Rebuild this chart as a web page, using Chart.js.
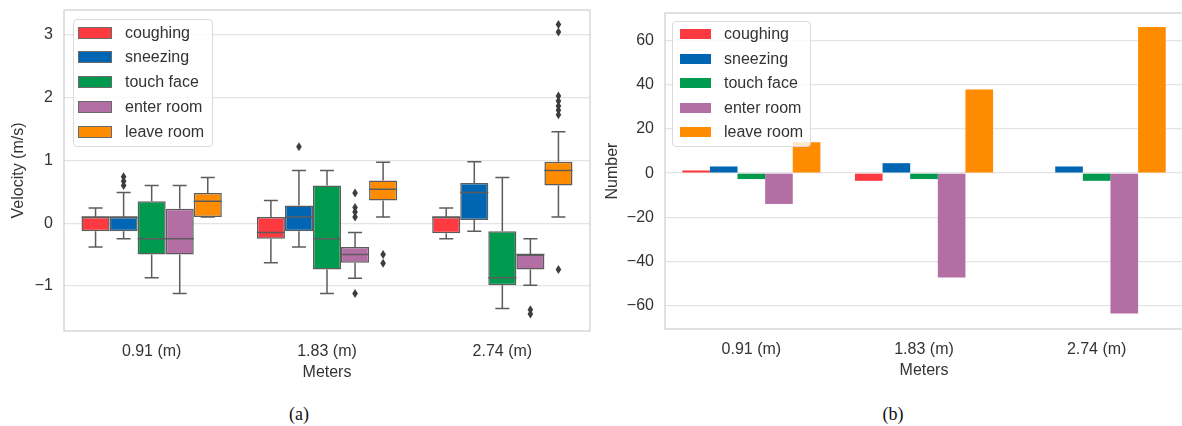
<!DOCTYPE html>
<html>
<head>
<meta charset="utf-8">
<script src="https://cdn.jsdelivr.net/npm/chart.js@4/dist/chart.umd.min.js"></script>
<style>
html,body{margin:0;padding:0;width:1182px;height:426px;overflow:hidden;background:#fff;font-family:"Liberation Sans",Arial,sans-serif;}
#ca{position:absolute;left:0;top:0;}
#cb{position:absolute;left:590px;top:0;}
.legend{position:absolute;background:rgba(255,255,255,0.8);border:1px solid #dadada;border-radius:4px;box-sizing:border-box;}
.patch{position:absolute;box-sizing:border-box;}
.ltxt{position:absolute;font-size:16px;line-height:20px;color:#333;white-space:nowrap;}
.cap{position:absolute;font-family:"Liberation Serif","Times New Roman",serif;font-size:18px;color:#111;transform:translate(-50%,-50%);}
</style>
</head>
<body>
<canvas id="ca" width="600" height="390"></canvas>
<canvas id="cb" width="594" height="390"></canvas>
<div id="legA" class="legend" style="left:73px;top:19px;width:140px;height:128px;"></div>
<div id="legB" class="legend" style="left:672px;top:21px;width:139px;height:126px;"></div>
<div class="cap" style="left:299px;top:414px;">(a)</div>
<div class="cap" style="left:893px;top:414px;">(b)</div>
<script>
// ---------- data ----------
const categories = ['0.91 (m)', '1.83 (m)', '2.74 (m)'];
const activities = ['coughing', 'sneezing', 'touch face', 'enter room', 'leave room'];
const colors = ['#fd3a3f', '#0066b3', '#009a4e', '#b36ea4', '#ff8c00'];

// Box-plot five-number summaries per category: [lowWhisker, q1, median, q3, highWhisker]
const coughingStats  = [[-0.38, -0.13, 0.10, 0.10, 0.24], [-0.63, -0.25, -0.15, 0.10, 0.36], [-0.25, -0.16, 0.10, 0.10, 0.24]];
const sneezingStats  = [[-0.25, -0.13, 0.10, 0.10, 0.49], [-0.38, -0.13, 0.10, 0.28, 0.84], [-0.13, 0.05, 0.49, 0.64, 0.98]];
const touchFaceStats = [[-0.87, -0.50, -0.25, 0.35, 0.60], [-1.12, -0.74, -0.25, 0.60, 0.84], [-1.36, -0.99, -0.87, -0.13, 0.73]];
const enterRoomStats = [[-1.12, -0.50, -0.25, 0.23, 0.60], [-0.88, -0.63, -0.50, -0.38, -0.15], [-0.99, -0.74, -0.50, -0.50, -0.25]];
const leaveRoomStats = [[0.10, 0.10, 0.35, 0.48, 0.73], [0.10, 0.36, 0.54, 0.68, 0.97], [0.10, 0.60, 0.84, 0.98, 1.46]];

// Outliers per category
const coughingOutliers  = [[], [], []];
const sneezingOutliers  = [[0.74, 0.67, 0.60], [1.22], []];
const touchFaceOutliers = [[], [], []];
const enterRoomOutliers = [[], [0.48, 0.25, 0.18, 0.10, -1.12], [-1.38, -1.45]];
const leaveRoomOutliers = [[], [-0.50, -0.64], [3.17, 3.05, 2.03, 1.95, 1.87, 1.80, 1.73, -0.74]];

// Bar chart (b) values per category
const coughingCount  = [1.2, -3.5, 0];
const sneezingCount  = [3, 4.5, 3];
const touchFaceCount = [-2.7, -2.7, -3.5];
const enterRoomCount = [-14, -47.3, -63.7];
const leaveRoomCount = [14, 37.9, 66.2];

const velocityTicks = [-1, 0, 1, 2, 3];
const numberTicks = [-60, -40, -20, 0, 20, 40, 60];

// ---------- shared styles ----------
const TXT = '#333333';
const GRID = '#e4e4e4';
const FRAME = '#d2d2d2';
const EDGE = '#5c5c5c';
const FONT = {family: '"Liberation Sans", Arial, sans-serif', size: 16};

const allStats = [coughingStats, sneezingStats, touchFaceStats, enterRoomStats, leaveRoomStats];
const allOutliers = [coughingOutliers, sneezingOutliers, touchFaceOutliers, enterRoomOutliers, leaveRoomOutliers];
const allCounts = [coughingCount, sneezingCount, touchFaceCount, enterRoomCount, leaveRoomCount];

const minusFmt = v => String(v).replace('-', '\u2212');

const framePlugin = {
  id: 'frame',
  afterDatasetsDraw(chart) {
    const a = chart.chartArea, ctx = chart.ctx;
    ctx.save();
    ctx.strokeStyle = FRAME;
    ctx.lineWidth = 1.3;
    ctx.strokeRect(a.left, a.top, a.right - a.left, a.bottom - a.top);
    ctx.restore();
  }
};

const boxPlugin = {
  id: 'boxDecor',
  afterDatasetsDraw(chart) {
    const ctx = chart.ctx, ys = chart.scales.y;
    chart.data.datasets.forEach((ds, di) => {
      const meta = chart.getDatasetMeta(di);
      meta.data.forEach((bar, i) => {
        const s = ds.stats[i];
        const half = bar.width / 2;
        const x = bar.x;
        const p = v => ys.getPixelForValue(v);
        ctx.save();
        ctx.strokeStyle = EDGE;
        ctx.lineWidth = 1.5;
        ctx.beginPath();
        ctx.moveTo(x - half, p(s[2])); ctx.lineTo(x + half, p(s[2]));
        ctx.moveTo(x, p(s[3])); ctx.lineTo(x, p(s[4]));
        ctx.moveTo(x, p(s[1])); ctx.lineTo(x, p(s[0]));
        ctx.moveTo(x - half / 2, p(s[4])); ctx.lineTo(x + half / 2, p(s[4]));
        ctx.moveTo(x - half / 2, p(s[0])); ctx.lineTo(x + half / 2, p(s[0]));
        ctx.stroke();
        ctx.fillStyle = '#3d3d3d';
        ds.outliers[i].forEach(v => {
          const yy = p(v);
          ctx.beginPath();
          ctx.moveTo(x, yy - 4.5);
          ctx.lineTo(x + 2.8, yy);
          ctx.lineTo(x, yy + 4.5);
          ctx.lineTo(x - 2.8, yy);
          ctx.closePath();
          ctx.fill();
        });
        ctx.restore();
      });
    });
  }
};

function fixedTicks(list) {
  return function(scale) { scale.ticks = list.map(v => ({value: v})); };
}
function yFit(w) {
  return function(scale) { scale.width = w; scale.paddingTop = 0; scale.paddingBottom = 0; };
}
function xFit(h) {
  return function(scale) { scale.height = h; scale.paddingLeft = 0; scale.paddingRight = 0; };
}

// ---------- chart (a): box plot ----------
new Chart(document.getElementById('ca'), {
  type: 'bar',
  data: {
    labels: categories,
    datasets: activities.map((name, k) => ({
      label: name,
      data: allStats[k].map(s => [s[1], s[3]]),
      stats: allStats[k],
      outliers: allOutliers[k],
      backgroundColor: colors[k],
      borderColor: EDGE,
      borderWidth: 1.5,
      borderSkipped: false,
      categoryPercentage: 0.8,
      barPercentage: 1.0
    }))
  },
  options: {
    responsive: false,
    animation: false,
    devicePixelRatio: 1,
    layout: {padding: {left: 0, right: 10, top: 10, bottom: 0}},
    plugins: {legend: {display: false}, tooltip: {enabled: false}},
    scales: {
      x: {
        grid: {display: false},
        border: {display: false},
        ticks: {color: TXT, font: FONT, padding: 3},
        title: {display: true, text: 'Meters', color: TXT, font: FONT, padding: {top: 0, bottom: 8}},
        afterFit: xFit(59)
      },
      y: {
        min: -1.72, max: 3.40,
        afterBuildTicks: fixedTicks(velocityTicks),
        grid: {color: GRID, lineWidth: 1.2, drawTicks: false},
        border: {display: false},
        ticks: {color: TXT, font: FONT, padding: 11, callback: minusFmt},
        title: {display: true, text: 'Velocity (m/s)', color: TXT, font: FONT, padding: {top: 9, bottom: 0}},
        afterFit: yFit(64)
      }
    }
  },
  plugins: [boxPlugin, framePlugin]
});

// ---------- chart (b): bar chart ----------
new Chart(document.getElementById('cb'), {
  type: 'bar',
  data: {
    labels: categories,
    datasets: activities.map((name, k) => ({
      label: name,
      data: allCounts[k],
      backgroundColor: colors[k],
      borderWidth: 0,
      categoryPercentage: 0.8,
      barPercentage: 1.0
    }))
  },
  options: {
    responsive: false,
    animation: false,
    devicePixelRatio: 1,
    layout: {padding: {left: 0, right: 1, top: 13, bottom: 0}},
    plugins: {legend: {display: false}, tooltip: {enabled: false}},
    scales: {
      x: {
        grid: {display: false},
        border: {display: false},
        ticks: {color: TXT, font: FONT, padding: 3},
        title: {display: true, text: 'Meters', color: TXT, font: FONT, padding: {top: 0, bottom: 10}},
        afterFit: xFit(61)
      },
      y: {
        min: -70.7, max: 72.6,
        afterBuildTicks: fixedTicks(numberTicks),
        grid: {color: GRID, lineWidth: 1.2, drawTicks: false},
        border: {display: false},
        ticks: {color: TXT, font: FONT, padding: 11, callback: minusFmt},
        title: {display: true, text: 'Number', color: TXT, font: FONT, padding: {top: 13, bottom: 0}},
        afterFit: yFit(75)
      }
    }
  },
  plugins: [framePlugin]
});

// ---------- legends ----------
function buildLegend(id, firstCenter, step, patchLeft, patchW, patchH, textLeft, patchBorder) {
  const box = document.getElementById(id);
  const bl = parseFloat(box.style.left), bt = parseFloat(box.style.top);
  activities.forEach((name, k) => {
    const cy = firstCenter + k * step - bt - 1;
    const patch = document.createElement('div');
    patch.className = 'patch';
    patch.style.left = (patchLeft - bl - 1) + 'px';
    patch.style.top = (cy - patchH / 2) + 'px';
    patch.style.width = patchW + 'px';
    patch.style.height = patchH + 'px';
    patch.style.background = colors[k];
    if (patchBorder) patch.style.border = patchBorder;
    box.appendChild(patch);
    const t = document.createElement('div');
    t.className = 'ltxt';
    t.style.left = (textLeft - bl - 1) + 'px';
    t.style.top = (cy - 10) + 'px';
    t.textContent = name;
    box.appendChild(t);
  });
}
buildLegend('legA', 32.5, 24.8, 78, 34, 12, 125, '1px solid #6a6a6a');
buildLegend('legB', 34, 24.6, 680, 31, 10, 724, null);
</script>
</body>
</html>
